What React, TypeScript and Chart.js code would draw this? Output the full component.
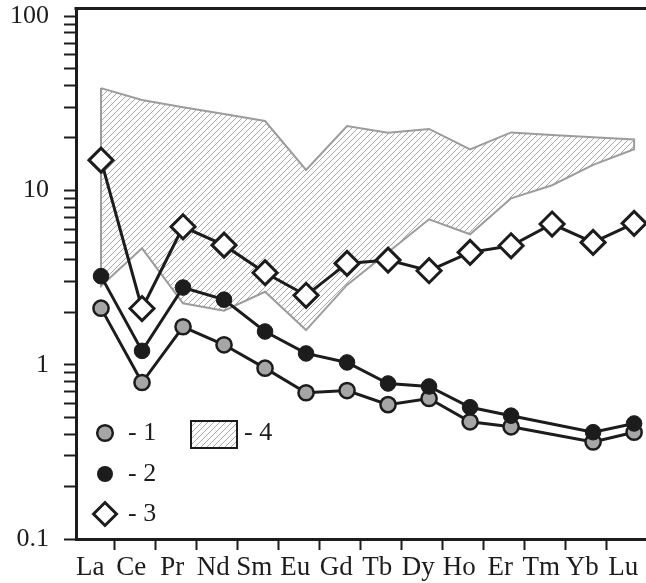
import React, { useEffect, useRef } from 'react';
import { Chart, registerables } from 'chart.js';

Chart.register(...registerables);

// ---------- data ----------
const elements = ['La', 'Ce', 'Pr', 'Nd', 'Sm', 'Eu', 'Gd', 'Tb', 'Dy', 'Ho', 'Er', 'Tm', 'Yb', 'Lu'];
const series1 = [2.11, 0.79, 1.65, 1.30, 0.955, 0.69, 0.71, 0.59, 0.64, 0.47, 0.44, null, 0.36, 0.41];
const series2 = [3.22, 1.20, 2.77, 2.36, 1.55, 1.16, 1.03, 0.78, 0.75, 0.57, 0.51, null, 0.41, 0.46];
const series3 = [14.9, 2.10, 6.18, 4.85, 3.37, 2.50, 3.81, 3.98, 3.46, 4.41, 4.81, 6.41, 5.03, 6.47];
const fieldUpper = [38.6, 33.0, 30.0, 27.4, 25.0, 13.1, 23.4, 21.4, 22.5, 17.2, 21.5, 20.8, 20.2, 19.6];
const fieldLower = [2.83, 4.65, 2.25, 2.04, 2.62, 1.58, 2.87, 4.41, 6.82, 5.60, 9.00, 10.7, 14.0, 17.2];
const yDecades = [0.1, 1, 10, 100];
const yTickLabels = ['0.1', '1', '10', '100'];
const legendLabels = ['- 1', '- 2', '- 3', '- 4'];

// ---------- styles ----------
const INK = '#1c1c1c';
const GRAY_FILL = '#a6a6a6';
const FIELD_LINE = '#9c9c9c';
const HATCH = '#a8a8a8';
const SERIF = '"Liberation Serif", "DejaVu Serif", "Times New Roman", serif';

const X_MIN = -0.61;
const X_MAX = 13.29;
const Y_MIN = 0.1;
const Y_MAX = 111.2;
const TICK_SHIFT = 0.32;

function makeHatch(): CanvasPattern | string {
  const c = document.createElement('canvas');
  const s = 6;
  c.width = s;
  c.height = s;
  const g = c.getContext('2d');
  if (!g) return 'rgba(0,0,0,0)';
  g.strokeStyle = HATCH;
  g.lineWidth = 1;
  g.beginPath();
  g.moveTo(-1, s + 1);
  g.lineTo(s + 1, -1);
  g.moveTo(-1, 1);
  g.lineTo(1, -1);
  g.moveTo(s - 1, s + 1);
  g.lineTo(s + 1, s - 1);
  g.stroke();
  return g.createPattern(c, 'repeat') || 'rgba(0,0,0,0)';
}

const toPoints = (arr: (number | null)[]) => arr.map((y, i) => ({ x: i, y }));

export default function App() {
  const ref = useRef<HTMLCanvasElement>(null);

  useEffect(() => {
    document.body.style.margin = '0';
    const canvas = ref.current;
    if (!canvas) return;
    const hatch = makeHatch();

    const outline = [
      ...fieldUpper.map((y, i) => ({ x: i, y })),
      ...fieldLower.map((y, i) => ({ x: i, y })).reverse(),
    ];
    outline.push({ ...outline[0] });

    const framePlugin = {
      id: 'frameAndLegend',
      afterDraw(chart: any) {
        const { ctx, chartArea } = chart;
        const { left, top, right } = chartArea;
        ctx.save();
        // top frame line
        ctx.strokeStyle = INK;
        ctx.lineWidth = 3;
        ctx.beginPath();
        ctx.moveTo(left - 1.5, top + 0.5);
        ctx.lineTo(right, top + 0.5);
        ctx.stroke();

        // legend
        const mx = left + 29;
        const tx = left + 52;
        const rows = [433, 474, 514];
        ctx.font = `26px ${SERIF}`;
        ctx.textBaseline = 'middle';
        ctx.textAlign = 'left';
        ctx.fillStyle = INK;

        // 1: gray circle
        ctx.beginPath();
        ctx.arc(mx, rows[0], 7.8, 0, Math.PI * 2);
        ctx.fillStyle = GRAY_FILL;
        ctx.fill();
        ctx.lineWidth = 2.5;
        ctx.strokeStyle = INK;
        ctx.stroke();
        // 2: black circle
        ctx.beginPath();
        ctx.arc(mx, rows[1], 8, 0, Math.PI * 2);
        ctx.fillStyle = INK;
        ctx.fill();
        // 3: diamond
        const r = 11.5;
        ctx.beginPath();
        ctx.moveTo(mx - r, rows[2]);
        ctx.lineTo(mx, rows[2] - r);
        ctx.lineTo(mx + r, rows[2]);
        ctx.lineTo(mx, rows[2] + r);
        ctx.closePath();
        ctx.fillStyle = '#ffffff';
        ctx.fill();
        ctx.lineWidth = 3;
        ctx.strokeStyle = INK;
        ctx.stroke();
        // 4: hatched box
        const bx = left + 115;
        const by = 421;
        ctx.fillStyle = hatch as any;
        ctx.fillRect(bx, by, 46, 27);
        ctx.lineWidth = 2;
        ctx.strokeStyle = INK;
        ctx.strokeRect(bx, by, 46, 27);

        ctx.fillStyle = INK;
        ctx.fillText(legendLabels[0], tx, rows[0]);
        ctx.fillText(legendLabels[1], tx, rows[1]);
        ctx.fillText(legendLabels[2], tx, rows[2]);
        ctx.fillText(legendLabels[3], bx + 53, rows[0]);
        ctx.restore();
      },
    };

    const chart = new Chart(canvas, {
      type: 'line',
      data: {
        datasets: [
          {
            label: '3',
            data: toPoints(series3) as any,
            borderColor: INK,
            borderWidth: 3,
            backgroundColor: '#ffffff',
            pointStyle: 'rectRot',
            pointRadius: 12,
            pointBorderWidth: 3,
            pointBorderColor: INK,
            pointBackgroundColor: '#ffffff',
            fill: false,
            tension: 0,
          },
          {
            label: '2',
            data: toPoints(series2) as any,
            borderColor: INK,
            borderWidth: 3,
            pointStyle: 'circle',
            pointRadius: 7.8,
            pointBorderWidth: 1,
            pointBorderColor: INK,
            pointBackgroundColor: INK,
            spanGaps: true,
            fill: false,
            tension: 0,
          },
          {
            label: '1',
            data: toPoints(series1) as any,
            borderColor: INK,
            borderWidth: 3,
            pointStyle: 'circle',
            pointRadius: 7.6,
            pointBorderWidth: 2.5,
            pointBorderColor: INK,
            pointBackgroundColor: GRAY_FILL,
            spanGaps: true,
            fill: false,
            tension: 0,
          },
          {
            label: '4',
            data: outline as any,
            borderColor: FIELD_LINE,
            borderWidth: 2,
            backgroundColor: hatch as any,
            fill: 'shape' as any,
            pointRadius: 0,
            tension: 0,
          },
        ],
      },
      options: {
        animation: false,
        responsive: false,
        devicePixelRatio: 1,
        layout: { padding: { top: 8, left: 0, right: 0, bottom: 0 }, autoPadding: false } as any,
        plugins: {
          legend: { display: false },
          tooltip: { enabled: false },
        },
        scales: {
          x: {
            type: 'linear',
            min: X_MIN,
            max: X_MAX,
            afterFit: (s: any) => {
              s.height = 44;
              s.paddingLeft = 0;
              s.paddingRight = 0;
              s.paddingTop = 0;
              s.paddingBottom = 0;
            },
            afterBuildTicks: (s: any) => {
              s.ticks = elements.map((_, i) => ({ value: i + TICK_SHIFT }));
            },
            border: { display: true, color: INK, width: 3 },
            grid: {
              drawOnChartArea: false,
              drawTicks: true,
              tickLength: 11,
              tickWidth: 2,
              tickColor: INK,
            },
            ticks: {
              autoSkip: false,
              maxRotation: 0,
              minRotation: 0,
              padding: 2,
              labelOffset: -24,
              color: INK,
              font: { family: SERIF, size: 27 },
              callback: (_v: any, i: number) => elements[i],
            },
          },
          y: {
            type: 'logarithmic',
            min: Y_MIN,
            max: Y_MAX,
            afterFit: (s: any) => {
              s.width = 76;
              s.paddingLeft = 0;
              s.paddingRight = 0;
              s.paddingTop = 0;
              s.paddingBottom = 0;
            },
            afterBuildTicks: (s: any) => {
              const t: { value: number }[] = [];
              yDecades.forEach((d, k) => {
                if (k === yDecades.length - 1) {
                  t.push({ value: d });
                } else {
                  for (let m = 1; m <= 9; m++) t.push({ value: d * m });
                }
              });
              s.ticks = t;
            },
            border: { display: true, color: INK, width: 3 },
            grid: {
              drawOnChartArea: false,
              drawTicks: true,
              tickLength: 12,
              tickWidth: 2,
              tickColor: INK,
            },
            ticks: {
              autoSkip: false,
              padding: 15,
              color: INK,
              font: { family: SERIF, size: 26 },
              callback: (v: any) => {
                const idx = yDecades.findIndex((d) => Math.abs(d - Number(v)) < d * 1e-6);
                return idx >= 0 ? yTickLabels[idx] : '';
              },
            },
          },
        },
      },
      plugins: [framePlugin],
    });

    return () => chart.destroy();
  }, []);

  return (
    <div style={{ width: 646, height: 583, background: '#ffffff' }}>
      <canvas ref={ref} width={646} height={583} style={{ display: 'block' }} />
    </div>
  );
}
